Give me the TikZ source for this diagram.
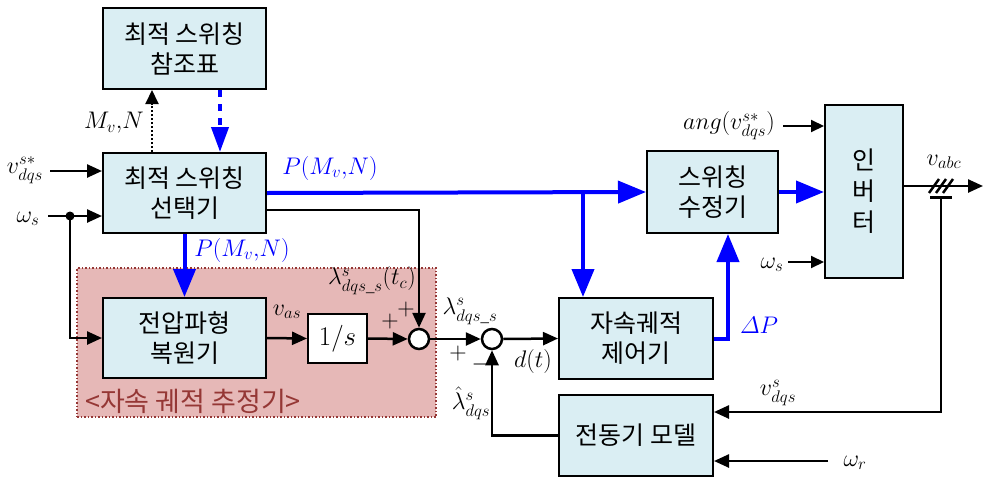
\RequirePackage{fix-cm}
\documentclass[tikz,border=0pt]{standalone}
\usepackage{amsmath}
\usepackage{fontspec}
\setmainfont{Liberation Serif}
\newfontfamily\krfont{Noto Sans CJK KR}
\usetikzlibrary{arrows.meta, positioning, calc}
\definecolor{boxblue}{HTML}{DAEEF3}
\definecolor{estfill}{HTML}{E6B8B7}
\definecolor{estline}{HTML}{953735}
\tikzset{
  blk/.style={rectangle, draw=black, line width=2pt, fill=boxblue,
              font=\krfont\fontsize{25}{30}\selectfont, align=center,
              inner sep=2pt},
  intbox/.style={rectangle, draw=black, line width=2pt, fill=white,
                 font=\fontsize{27}{30}\selectfont,
                 minimum width=59pt, minimum height=49pt},
  sumc/.style={circle, draw=black, line width=2.5pt, fill=white,
               minimum size=20pt, inner sep=0pt},
  estbox/.style={rectangle, draw=estline, line width=1.5pt, dotted,
                 fill=estfill},
  arr/.style={-{Triangle[length=15pt,width=13pt]}, line width=2.5pt},
  tarr/.style={-{Triangle[length=13pt,width=12pt]}, line width=2pt},
  barr/.style={-{Triangle[length=28pt,width=22pt]}, line width=4pt, blue},
  lbl/.style={font=\fontsize{24}{28}\selectfont, inner sep=1pt},
  blbl/.style={lbl, text=blue},
}
\begin{document}
\begin{tikzpicture}[x=1pt, y=-1pt]
  \useasboundingbox (0,0) rectangle (983,477);
  %% Flux trajectory estimator area
  \node[estbox, minimum width=359pt, minimum height=149pt] (est) at (256.5,342.5) {};
  \node[font=\krfont\fontsize{27}{30}\selectfont, text=estline] (estlbl) at (193,401)
    {<자속 궤적 추정기>};
  %% Blocks
  \node[blk, minimum width=163pt, minimum height=81pt] (lut) at (184.5,48.5) {최적 스위칭\\참조표};
  \node[blk, minimum width=163pt, minimum height=80pt] (sel) at (184.5,193) {최적 스위칭\\선택기};
  \node[blk, minimum width=163pt, minimum height=80pt] (rec) at (184.5,338) {전압파형\\복원기};
  \node[intbox] (integ) at (337.5,338.5) {$1/s$};
  \node[sumc] (s1) at (419,339) {};
  \node[sumc] (s2) at (492,339) {};
  \node[blk, minimum width=154pt, minimum height=81pt] (ctrl) at (636,338.5) {자속궤적\\제어기};
  \node[blk, minimum width=154pt, minimum height=81pt] (motor) at (636,435.5) {전동기 모델};
  \node[blk, minimum width=131pt, minimum height=82pt] (mod) at (712.5,192) {스위칭\\수정기};
  \node[blk, minimum width=78pt, minimum height=173pt,
        font=\krfont\fontsize{25}{31}\selectfont] (inv) at (864,191.5) {인\\버\\터};
  %% Lookup table link
  \draw[-{Triangle[length=14pt,width=13pt]}, line width=2pt, dotted]
    ([xshift=-32.5pt]sel.north) -- ([xshift=-32.5pt]lut.south);
  \node[lbl] (mvn) at (114,123) {$M_v{,}N$};
  \draw[-{Triangle[length=25pt,width=17pt]}, line width=4pt, blue, dash pattern=on 7pt off 7pt]
    ([xshift=35.5pt]lut.south) -- ([xshift=35.5pt]sel.north);
  %% Inputs of the selector
  \coordinate (vin) at (50,171);
  \draw[arr] (vin) -- (vin -| sel.west);
  \node[lbl] (vinlbl) at (25,170) {$v_{dqs}^{s*}$};
  \coordinate (win) at (48,216);
  \coordinate (jw) at (70,216);
  \draw[arr] (win) -- (win -| sel.west);
  \draw[arr] (jw) |- (rec.west);
  \fill (jw) circle (4.5pt);
  \node[lbl] (winlbl) at (28,219) {$\omega_s$};
  %% Switching pattern paths
  \coordinate (jb) at (583,192);
  \draw[barr] (sel.east) -- (mod.west);
  \draw[barr] (jb) -- (jb |- ctrl.north);
  \node[blbl] (p1) at (330,168) {$P(M_v{,}N)$};
  \draw[barr] (sel.south) -- (rec.north);
  \node[blbl] (p2) at (242,250) {$P(M_v{,}N)$};
  \draw[arr] ([yshift=-17pt]sel.east) -| (s1.north);
  %% Estimator chain
  \draw[arr] (rec.east) -- (integ.west);
  \node[lbl] (vas) at (287,312) {$v_{as}$};
  \draw[arr] (integ.east) -- (s1.west);
  \node[lbl] (pl1) at (390,321) {$+$};
  \node[lbl] (pl2) at (406,309) {$+$};
  \node[lbl] (lamtc) at (372,281) {$\lambda_{dqs\_s}^{s}(t_c)$};
  \draw[arr] (s1.east) -- (s2.west);
  \node[lbl] (lams) at (470,311) {$\lambda_{dqs\_s}^{s}$};
  \node[lbl] (pl3) at (458,353) {$+$};
  \node[lbl] (mi1) at (481,364) {$-$};
  \node[lbl] (lamh) at (471,403) {$\hat{\lambda}_{dqs}^{s}$};
  \draw[arr] (s2.east) -- (ctrl.west);
  \node[lbl] (dt) at (533,361) {$d(t)$};
  \draw[arr] (motor.west) -| (s2.south);
  %% Controller output
  \draw[barr] (ctrl.east) -| ([xshift=15.5pt]mod.south);
  \node[blbl] (dp) at (759,325) {$\varDelta P$};
  \draw[barr] (mod.east) -- (mod.east -| inv.west);
  %% Inverter inputs and output
  \coordinate (angin) at (783,126);
  \draw[tarr] (angin) -- (angin -| inv.west);
  \node[lbl] (anglbl) at (729,126) {$ang(v_{dqs}^{s*})$};
  \coordinate (wsin) at (788,262);
  \draw[tarr] (wsin) -- (wsin -| inv.west);
  \node[lbl] (wslbl) at (772,265) {$\omega_s$};
  \coordinate (vout) at (983,186);
  \draw[arr] (vout -| inv.east) -- (vout);
  \node[lbl] (vabc) at (944,162) {$v_{abc}$};
  \foreach \x in {934,941,948}
    \draw[line width=2.5pt] (\x-5,193) -- (\x+5,179);
  \coordinate (tap) at (941,197);
  \draw[line width=3pt] (930,197) -- (952,197);
  \coordinate (vfb) at (941,412);
  \draw[arr] (tap) -- (vfb) -- (vfb -| motor.east);
  \node[lbl] (vfblbl) at (778,393) {$v_{dqs}^{s}$};
  \coordinate (wr) at (828,461);
  \draw[arr] (wr) -- (wr -| motor.east);
  \node[lbl] (wrlbl) at (855,463) {$\omega_r$};
\end{tikzpicture}
\end{document}
